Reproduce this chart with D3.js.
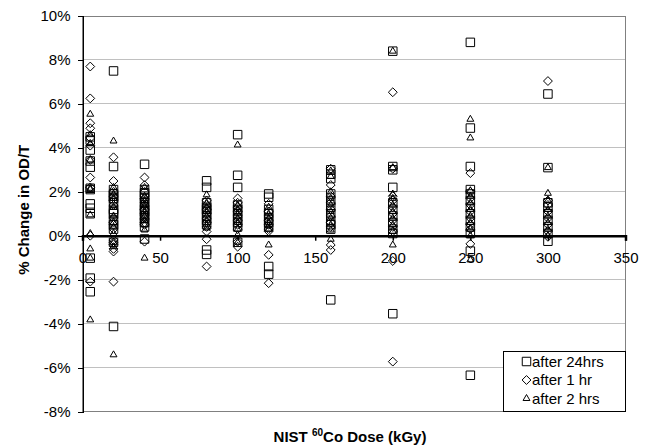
<!DOCTYPE html>
<html>
<head>
<meta charset="utf-8">
<script src="https://cdn.jsdelivr.net/npm/d3@7"></script>
<style>
  html, body { margin: 0; padding: 0; background: #fff; }
  svg { display: block; font-family: "Liberation Sans", Arial, sans-serif; }
</style>
</head>
<body>
<svg id="chart" width="651" height="446"></svg>
<script>
// ---- data ----
const doses = [5, 20, 40, 80, 100, 120, 160, 200, 250, 300];
const xTicks = [0, 50, 100, 150, 200, 250, 300, 350];
const yTicks = [-8, -6, -4, -2, 0, 2, 4, 6, 8, 10];
const seriesNames = ["after 24hrs", "after 1 hr", "after 2 hrs"];

// % change values per dose (same order as doses)
const after24hrs = [
  [4.5, 4.35, 3.9, 3.4, 3.12, 2.16, 2.1, 1.45, 1.25, 1.0, -1.02, -1.93, -2.55],
  [7.5, 3.15, 2.1, 1.9, 1.8, 1.7, 1.5, 1.2, 1.1, 1.0, 0.7, 0.5, 0.3, -0.3, -4.13],
  [3.25, 2.1, 1.95, 1.8, 1.7, 1.5, 1.3, 1.2, 1.1, 0.9, 0.8, 0.6, 0.4, -0.15],
  [2.5, 2.2, 1.5, 1.3, 1.2, 1.1, 0.9, 0.7, 0.5, -0.65, -0.85],
  [4.6, 2.75, 2.2, 1.4, 1.2, 1.0, 0.8, 0.6, 0.4, -0.3],
  [1.9, 1.75, 1.2, 1.0, 0.8, 0.6, 0.4, -1.4, -1.75],
  [3.0, 2.8, 2.6, 1.9, 1.6, 1.3, 1.0, 0.7, 0.5, 0.3, -2.92],
  [8.4, 3.15, 3.0, 2.2, 1.5, 1.2, 0.9, 0.6, 0.3, 0.1, -3.55],
  [8.8, 4.9, 3.15, 2.1, 1.9, 1.6, 1.3, 1.0, 0.7, 0.4, 0.1, -0.7, -6.35],
  [6.45, 3.1, 1.5, 1.3, 1.0, 0.7, 0.4, 0.1, -0.25]
];
const after1hr = [
  [7.7, 6.25, 5.12, 4.89, 4.45, 4.1, 3.45, 2.65, 2.2, 0.0, -2.09],
  [3.57, 2.49, 2.0, 1.8, 1.6, 1.4, 0.8, 0.6, 0.5, 0.3, -0.2, -0.3, -0.4, -0.6, -0.72, -2.09],
  [2.65, 2.3, 2.0, 1.7, 1.5, 1.4, 1.2, 1.0, 0.9, 0.8, 0.6, 0.5, -0.27],
  [1.6, 1.4, 1.2, 1.0, 0.8, 0.6, 0.4, 0.19, -0.16, -1.4],
  [1.7, 1.5, 1.3, 1.1, 0.9, 0.7, 0.5, 0.3, -0.27, -0.5],
  [1.45, 1.1, 0.9, 0.7, 0.5, 0.3, 0.2, -0.87, -2.16],
  [3.05, 2.31, 1.8, 1.5, 1.2, 0.9, 0.6, 0.4, -0.42, -0.65],
  [6.53, 3.05, 1.8, 1.6, 1.3, 1.0, 0.7, 0.4, 0.2, -1.15, -5.73],
  [2.85, 2.0, 1.7, 1.4, 1.1, 0.8, 0.5, 0.3, -0.37],
  [7.04, 1.6, 1.4, 1.1, 0.8, 0.5, 0.2, -0.05]
];
const after2hrs = [
  [5.53, 4.6, 4.2, 3.45, 2.16, 2.1, 0.95, 0.1, -0.6, -1.02, -3.83],
  [4.31, 2.2, 1.9, 1.7, 1.3, 0.9, 0.6, 0.4, 0.1, -0.3, -0.5, -5.42],
  [2.2, 1.8, 1.6, 1.4, 1.3, 1.1, 0.9, 0.7, 0.5, 0.26, -1.02],
  [1.86, 1.5, 1.3, 1.1, 0.9, 0.7, 0.5, 0.35],
  [4.13, 1.4, 1.2, 1.0, 0.8, 0.6, 0.3, 0.04, -0.3],
  [1.3, 1.0, 0.8, 0.6, 0.45, 0.3, -0.42],
  [2.95, 2.7, 2.0, 1.7, 1.4, 1.1, 0.8, 0.5, 0.26, -0.16],
  [8.4, 3.1, 1.9, 1.7, 1.4, 1.1, 0.8, 0.5, 0.2, -0.42],
  [5.3, 4.45, 2.05, 1.8, 1.5, 1.2, 0.9, 0.6, 0.3, 0.0, -1.1],
  [3.1, 1.93, 1.6, 1.2, 0.9, 0.6, 0.3, 0.0]
];

// ---- layout ----
const svg = d3.select("#chart");
const L = 82.5, R = 625.5, T = 16, B = 411.5;
const x = d3.scaleLinear().domain([0, 350]).range([L, R]);
const y = d3.scaleLinear().domain([-8, 10]).range([B, T]);
const FONT = 15;

// gridlines
svg.append("g").selectAll("line")
  .data(yTicks.filter(t => t !== 0 && t !== -8 && t !== 10))
  .join("line")
  .attr("x1", L).attr("x2", R)
  .attr("y1", d => y(d)).attr("y2", d => y(d))
  .attr("stroke", "#c0c0c0").attr("stroke-width", 1).attr("shape-rendering", "crispEdges");

// plot-area border
svg.append("rect")
  .attr("x", L).attr("y", T).attr("width", R - L).attr("height", B - T)
  .attr("fill", "none").attr("stroke", "#808080").attr("stroke-width", 1)
  .attr("shape-rendering", "crispEdges");

// y axis
const yAxis = d3.axisLeft(y).tickValues(yTicks).tickSize(5).tickPadding(7)
  .tickFormat(d => d + "%");
const gy = svg.append("g").attr("transform", `translate(${L},0)`).call(yAxis);
gy.select(".domain").attr("stroke", "#000").attr("shape-rendering", "crispEdges");
gy.selectAll(".tick line").attr("stroke", "#000").attr("shape-rendering", "crispEdges");
gy.selectAll(".tick text").attr("font-size", FONT).attr("fill", "#000")
  .attr("font-family", "Liberation Sans, Arial, sans-serif");

// x axis at 0%
const xAxis = d3.axisBottom(x).tickValues(xTicks).tickSize(5).tickPadding(12)
  .tickFormat(d3.format("d"));
const gx = svg.append("g").attr("transform", `translate(0,${y(0)})`).call(xAxis);
gx.select(".domain").attr("stroke", "#000").attr("stroke-width", 2.5);
gx.selectAll(".tick line").attr("stroke", "#000").attr("stroke-width", 1.5);
gx.selectAll(".tick text").attr("font-size", FONT).attr("fill", "#000")
  .attr("font-family", "Liberation Sans, Arial, sans-serif");

// markers
const shapes = [
  d3.symbol().type(d3.symbolSquare).size(72),
  d3.symbol().type(d3.symbolDiamond2 || d3.symbolDiamond).size(50),
  d3.symbol().type(d3.symbolTriangle2 || d3.symbolTriangle).size(34)
];
const allSeries = [after24hrs, after1hr, after2hrs];

allSeries.forEach((ser, si) => {
  const pts = [];
  ser.forEach((vals, di) => vals.forEach(v => pts.push({ dose: doses[di], v })));
  svg.append("g").selectAll("path")
    .data(pts).join("path")
    .attr("d", shapes[si])
    .attr("transform", d => `translate(${x(d.dose)},${y(d.v)})`)
    .attr("fill", "none").attr("stroke", "#000").attr("stroke-width", 1);
});

// legend
const lg = svg.append("g");
lg.append("rect").attr("x", 503.5).attr("y", 351.5).attr("width", 122).attr("height", 60)
  .attr("fill", "#fff").attr("stroke", "#000").attr("stroke-width", 1);
seriesNames.forEach((name, i) => {
  const cy = 361.5 + i * 18.5;
  lg.append("path").attr("d", shapes[i]())
    .attr("transform", `translate(526.5,${cy})`)
    .attr("fill", "none").attr("stroke", "#000").attr("stroke-width", 1);
  lg.append("text").attr("x", 532).attr("y", cy + 5)
    .attr("font-size", FONT).attr("fill", "#000").text(name);
});

// axis titles
svg.append("text")
  .attr("transform", `translate(29,${(T + B) / 2 - 4}) rotate(-90)`)
  .attr("text-anchor", "middle").attr("font-size", FONT).attr("font-weight", "bold")
  .text("% Change in OD/T");

const xt = svg.append("text")
  .attr("x", 350).attr("y", 441.5)
  .attr("text-anchor", "middle").attr("font-size", FONT).attr("font-weight", "bold");
xt.append("tspan").text("NIST ");
xt.append("tspan").attr("font-size", 10).attr("dy", -6).text("60");
xt.append("tspan").attr("dy", 6).text("Co Dose (kGy)");
</script>
</body>
</html>
